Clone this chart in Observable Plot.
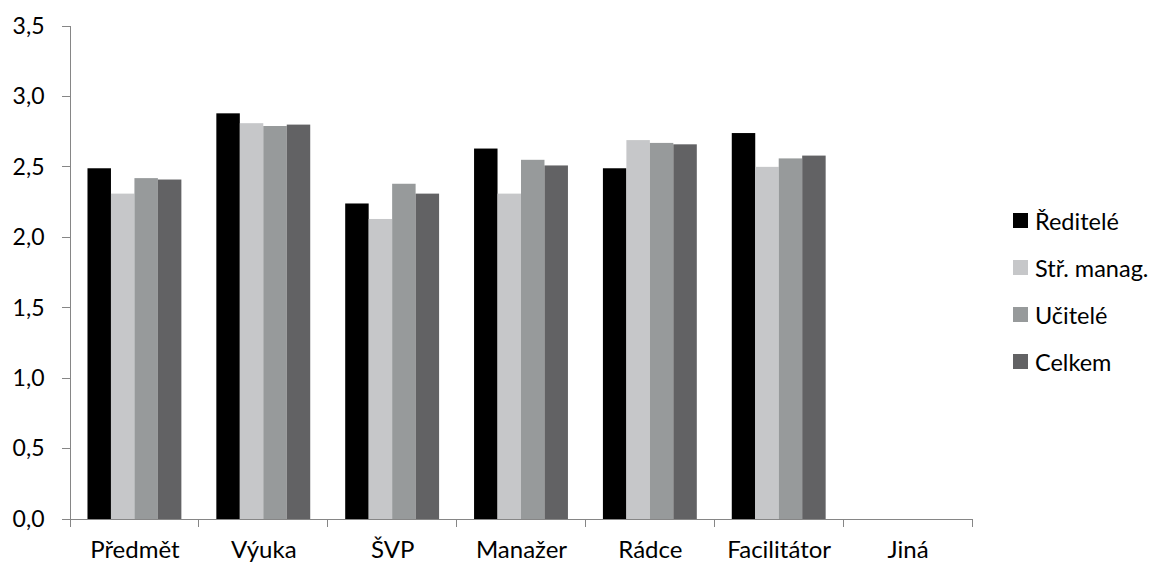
<!DOCTYPE html>
<html>
<head>
<meta charset="utf-8">
<script src="https://cdn.jsdelivr.net/npm/d3@7"></script>
<script src="https://cdn.jsdelivr.net/npm/@observablehq/plot@0.6"></script>
<style>
  body { margin: 0; background: #fff; font-family: Lato, sans-serif; }
  #wrap { position: relative; width: 1157px; height: 564px; overflow: hidden; }
  #legend { position: absolute; left: 1013px; top: 197px; }
  #legend .item { display: flex; align-items: center; height: 47px; font-size: 23.5px; color: #000; }
  #legend .sw { width: 15px; height: 15px; margin-right: 7px; }
</style>
</head>
<body>
<div id="wrap"></div>
<script>
// Categories along the x axis and the four respondent groups
const categories = ["Předmět", "Výuka", "ŠVP", "Manažer", "Rádce", "Facilitátor", "Jiná"];
const seriesNames = ["Ředitelé", "Stř. manag.", "Učitelé", "Celkem"];

// Mean scores per category (Jiná has no values)
const reditele  = [2.49, 2.88, 2.24, 2.63, 2.49, 2.74, null];
const strManag  = [2.31, 2.81, 2.13, 2.31, 2.69, 2.50, null];
const ucitele   = [2.42, 2.79, 2.38, 2.55, 2.67, 2.56, null];
const celkem    = [2.41, 2.80, 2.31, 2.51, 2.66, 2.58, null];

const seriesColors = ["#000000", "#c6c7c9", "#979a9b", "#626264"];
const yTicks = [0, 0.5, 1, 1.5, 2, 2.5, 3, 3.5];
const axisColor = "#868686";

// Long-format rows for the grouped bars
const seriesValues = [reditele, strManag, ucitele, celkem];
const rows = [];
categories.forEach((category, i) => {
  seriesNames.forEach((series, j) => {
    const value = seriesValues[j][i];
    if (value != null) rows.push({category, series, value});
  });
});

const fmt = d => d.toFixed(1).replace(".", ",");

const chart = Plot.plot({
  width: 1157,
  height: 564,
  marginLeft: 70,
  marginRight: 185,
  marginTop: 26,
  marginBottom: 45,
  style: {fontFamily: "Lato, sans-serif", fontSize: "23px", color: "#000", background: "#fff"},
  fx: {domain: categories, padding: 0, round: false, label: null},
  x: {domain: seriesNames, paddingInner: 0, paddingOuter: 0.745, round: false, axis: null},
  y: {domain: [0, 3.5], label: null},
  color: {domain: seriesNames, range: seriesColors},
  marks: [
    Plot.barY(rows, {fx: "category", x: "series", y: "value", fill: "series"}),
    Plot.axisY({ticks: yTicks, tickSize: 0, tickPadding: 26, tickFormat: fmt, label: null, fontSize: 23}),
    Plot.axisFx({anchor: "bottom", tickSize: 0, tickPadding: 21, label: null, fontSize: 24})
  ]
});

document.getElementById("wrap").appendChild(chart);

// Axis lines and tick marks: y axis on the left, category separators below the baseline
const svg = d3.select(chart);
const fx = chart.scale("fx");
const y = chart.scale("y");
const y0 = y.apply(0);
const yTop = y.apply(3.5);
const xLeft = fx.apply(categories[0]);
const xRight = fx.apply(categories[categories.length - 1]) + fx.bandwidth;
const g = svg.append("g").attr("stroke", axisColor).attr("stroke-width", 1).attr("shape-rendering", "crispEdges");

g.append("line").attr("x1", xLeft).attr("x2", xLeft).attr("y1", yTop).attr("y2", y0);
g.selectAll(".ytick").data(yTicks).join("line")
  .attr("x1", xLeft - 8).attr("x2", xLeft)
  .attr("y1", d => y.apply(d)).attr("y2", d => y.apply(d));

g.append("line").attr("x1", xLeft).attr("x2", xRight).attr("y1", y0).attr("y2", y0);
const boundaries = categories.map(c => fx.apply(c)).concat([xRight]);
g.selectAll(".xtick").data(boundaries).join("line")
  .attr("x1", d => d).attr("x2", d => d)
  .attr("y1", y0).attr("y2", y0 + 8);

// Legend built from the series names and colours
const legend = document.createElement("div");
legend.id = "legend";
seriesNames.forEach((name, i) => {
  const item = document.createElement("div");
  item.className = "item";
  const sw = document.createElement("span");
  sw.className = "sw";
  sw.style.background = seriesColors[i];
  item.appendChild(sw);
  item.appendChild(document.createTextNode(name));
  legend.appendChild(item);
});
document.getElementById("wrap").appendChild(legend);
</script>
</body>
</html>
